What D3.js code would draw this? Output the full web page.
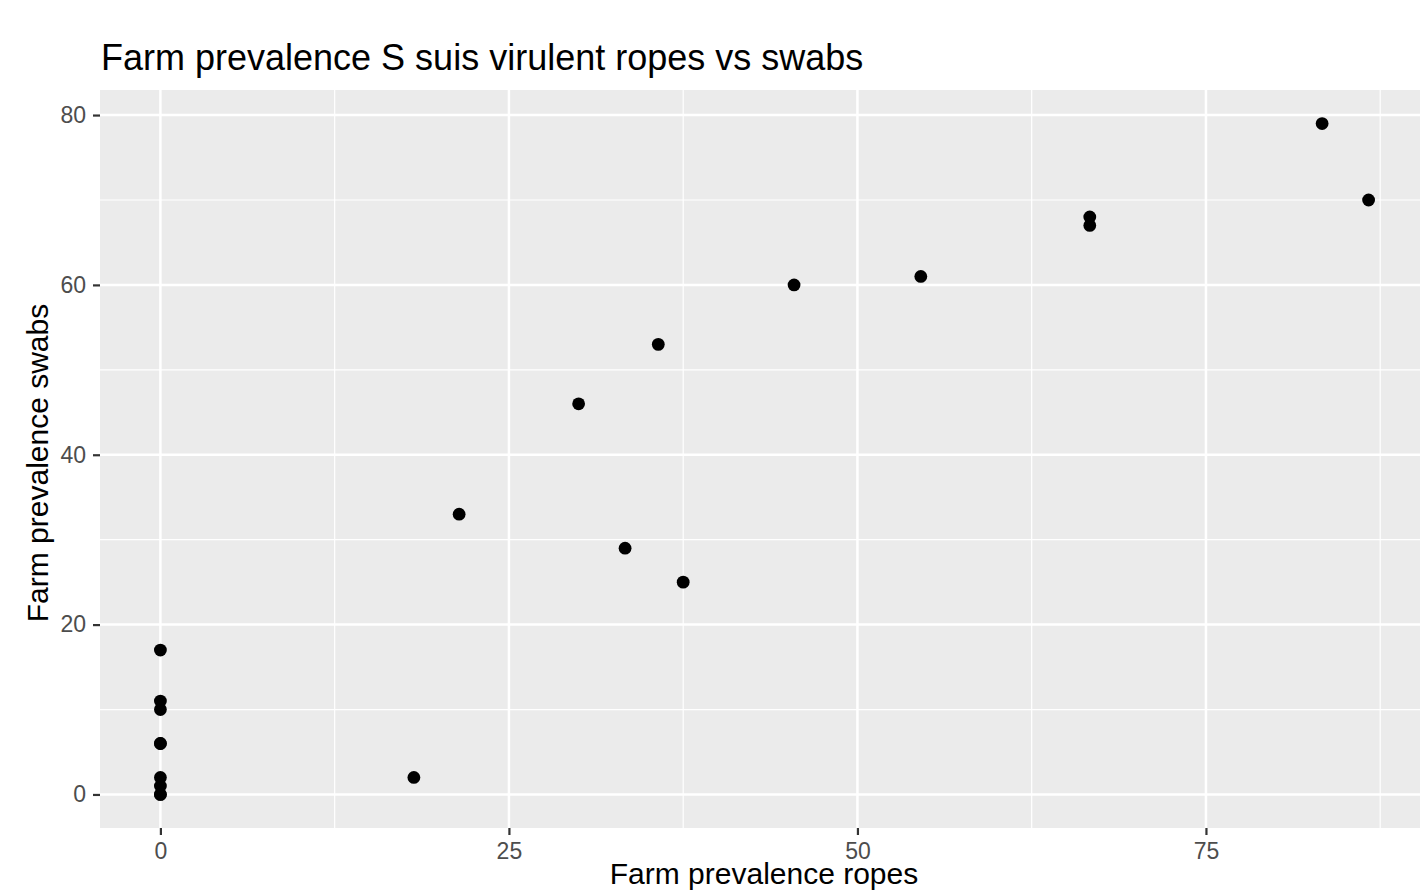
<!DOCTYPE html>
<html><head><meta charset="utf-8">
<script src="https://cdn.jsdelivr.net/npm/d3@7"></script>
<style>body{margin:0;background:#fff}</style>
</head><body>
<svg id="c" width="1420" height="891"></svg>
<script>
const ropes = [0,0,0,0,0,0,0,0,0, 2/11*100, 3/14*100, 30, 100/3, 500/14, 37.5, 500/11, 600/11, 200/3, 200/3, 500/6, 1300/15];
const swabs = [17,11,10,6,6,2,1,0,0, 2, 33, 46, 29, 53, 25, 60, 61, 68, 67, 79, 70];
const xTicks = [0,25,50,75];
const yTicks = [0,20,40,60,80];
const xMinor = [12.5,37.5,62.5,87.5];
const yMinor = [10,30,50,70];
const title = "Farm prevalence S suis virulent ropes vs swabs";
const xTitle = "Farm prevalence ropes";
const yTitle = "Farm prevalence swabs";

const FONT = "Liberation Sans, Arial, sans-serif";
const svg = d3.select("#c");
const L = 100, R = 1429, T = 90, B = 828;
const xs = d3.scaleLinear().domain([-4.333, 91.0]).range([L, R]);
const ys = d3.scaleLinear().domain([-3.95, 82.95]).range([B, T]);

svg.append("rect").attr("x", L).attr("y", T).attr("width", R - L).attr("height", B - T).attr("fill", "#EBEBEB");
const g = svg.append("g");
g.selectAll(".xm").data(xMinor).join("line").attr("x1", d => xs(d)).attr("x2", d => xs(d)).attr("y1", T).attr("y2", B).attr("stroke", "#fff").attr("stroke-width", 1.2);
g.selectAll(".ym").data(yMinor).join("line").attr("y1", d => ys(d)).attr("y2", d => ys(d)).attr("x1", L).attr("x2", R).attr("stroke", "#fff").attr("stroke-width", 1.2);
g.selectAll(".xM").data(xTicks).join("line").attr("x1", d => xs(d)).attr("x2", d => xs(d)).attr("y1", T).attr("y2", B).attr("stroke", "#fff").attr("stroke-width", 2.5);
g.selectAll(".yM").data(yTicks).join("line").attr("y1", d => ys(d)).attr("y2", d => ys(d)).attr("x1", L).attr("x2", R).attr("stroke", "#fff").attr("stroke-width", 2.5);

const pts = ropes.map((r, i) => [r, swabs[i]]);
svg.append("g").selectAll("circle").data(pts).join("circle")
  .attr("cx", d => xs(d[0])).attr("cy", d => ys(d[1])).attr("r", 6.4).attr("fill", "#000");

const xAxis = svg.append("g").attr("transform", `translate(0,${B})`)
  .call(d3.axisBottom(xs).tickValues(xTicks).tickSize(7).tickPadding(8).tickFormat(d3.format("d")));
const yAxis = svg.append("g").attr("transform", `translate(${L},0)`)
  .call(d3.axisLeft(ys).tickValues(yTicks).tickSize(7).tickPadding(7).tickFormat(d3.format("d")));
[xAxis, yAxis].forEach(a => {
  a.select(".domain").remove();
  a.selectAll(".tick line").attr("stroke", "#333").attr("stroke-width", 2.2);
  a.selectAll(".tick text").attr("fill", "#4D4D4D").attr("font-family", FONT).attr("font-size", 23);
});

svg.append("text").attr("x", 101).attr("y", 70).attr("font-family", FONT)
  .attr("font-size", 36).attr("fill", "#000").text(title);
svg.append("text").attr("x", 764).attr("y", 884).attr("text-anchor", "middle")
  .attr("font-family", FONT).attr("font-size", 30).attr("fill", "#000").text(xTitle);
svg.append("text").attr("transform", `translate(48,463) rotate(-90)`).attr("text-anchor", "middle")
  .attr("font-family", FONT).attr("font-size", 30).attr("fill", "#000").text(yTitle);
</script>
</body></html>
